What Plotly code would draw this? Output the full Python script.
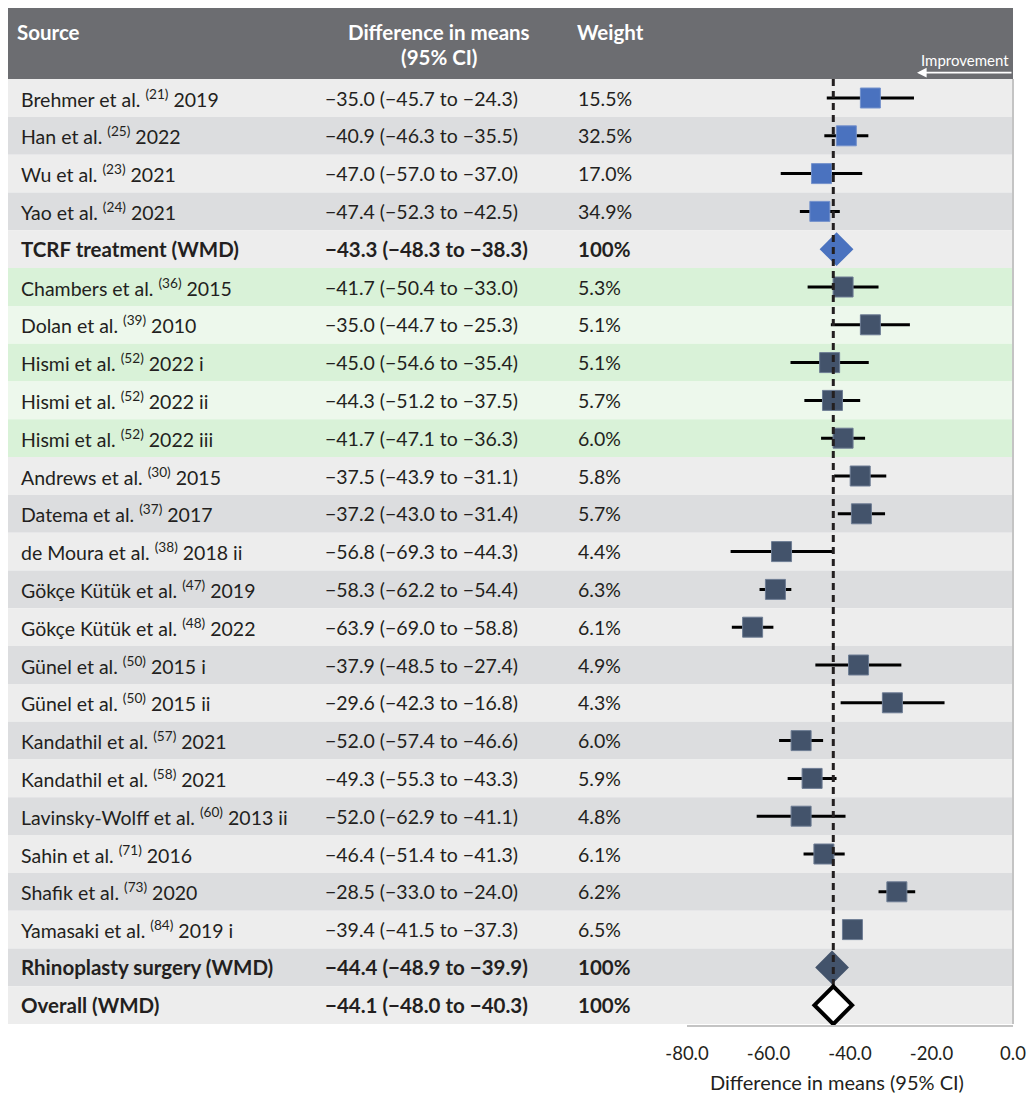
import plotly.graph_objects as go

# ---- study data -------------------------------------------------------------
authors = [
    "Brehmer et al.", "Han et al.", "Wu et al.", "Yao et al.", "TCRF treatment (WMD)",
    "Chambers et al.", "Dolan et al.", "Hismi et al.", "Hismi et al.", "Hismi et al.",
    "Andrews et al.", "Datema et al.", "de Moura et al.", "Gökçe Kütük et al.",
    "Gökçe Kütük et al.", "Günel et al.", "Günel et al.", "Kandathil et al.",
    "Kandathil et al.", "Lavinsky-Wolff et al.", "Sahin et al.", "Shafik et al.",
    "Yamasaki et al.", "Rhinoplasty surgery (WMD)", "Overall (WMD)",
]
refs = ["21", "25", "23", "24", "", "36", "39", "52", "52", "52", "30", "37", "38", "47",
        "48", "50", "50", "57", "58", "60", "71", "73", "84", "", ""]
years = ["2019", "2022", "2021", "2021", "", "2015", "2010", "2022 i", "2022 ii", "2022 iii",
         "2015", "2017", "2018 ii", "2019", "2022", "2015 i", "2015 ii", "2021", "2021",
         "2013 ii", "2016", "2020", "2019 i", "", ""]
means = [-35.0, -40.9, -47.0, -47.4, -43.3, -41.7, -35.0, -45.0, -44.3, -41.7, -37.5, -37.2,
         -56.8, -58.3, -63.9, -37.9, -29.6, -52.0, -49.3, -52.0, -46.4, -28.5, -39.4, -44.4, -44.1]
ci_low = [-45.7, -46.3, -57.0, -52.3, -48.3, -50.4, -44.7, -54.6, -51.2, -47.1, -43.9, -43.0,
          -69.3, -62.2, -69.0, -48.5, -42.3, -57.4, -55.3, -62.9, -51.4, -33.0, -41.5, -48.9, -48.0]
ci_high = [-24.3, -35.5, -37.0, -42.5, -38.3, -33.0, -25.3, -35.4, -37.5, -36.3, -31.1, -31.4,
           -44.3, -54.4, -58.8, -27.4, -16.8, -46.6, -43.3, -41.1, -41.3, -24.0, -37.3, -39.9, -40.3]
weights = ["15.5%", "32.5%", "17.0%", "34.9%", "100%", "5.3%", "5.1%", "5.1%", "5.7%", "6.0%",
           "5.8%", "5.7%", "4.4%", "6.3%", "6.1%", "4.9%", "4.3%", "6.0%", "5.9%", "4.8%",
           "6.1%", "6.2%", "6.5%", "100%", "100%"]
# row role: study rows of each group, the group summaries and the pooled result
kinds = ["tcrf"] * 4 + ["tcrf_sum"] + ["rhino"] * 18 + ["rhino_sum", "overall"]
highlighted = [False] * 5 + [True] * 5 + [False] * 15

tick_vals = [-80, -60, -40, -20, 0]
tick_text = ["-80.0", "-60.0", "-40.0", "-20.0", "0.0"]

# ---- styling ------------------------------------------------------------------
W, H = 1029, 1094
FONT = "Lato"
TXT = "#231f20"
BLUE = "#4a72bf"
NAVY = "#43536b"
HEADER = "#6c6d71"
ROW_BG = {(False, 0): "#ededed", (False, 1): "#dcdddf",
          (True, 0): "#edf8ec", (True, 1): "#d9f2d8"}
SIZE_REG, SIZE_BOLD = 19.5, 20.5


def px(x):
    """horizontal pixel -> paper fraction"""
    return x / W


def fmt(v):
    return f"{v:.1f}".replace("-", "\u2212")


n = len(means)
rows = list(range(n))

fig = go.Figure()

# confidence intervals of the individual studies
ci_x, ci_y = [], []
for i in rows:
    if kinds[i] in ("tcrf", "rhino"):
        ci_x += [ci_low[i], ci_high[i], None]
        ci_y += [i, i, None]
fig.add_trace(go.Scatter(x=ci_x, y=ci_y, mode="lines",
                         line=dict(color="black", width=3), hoverinfo="skip"))

# study point estimates
for kind, col, edge in (("tcrf", BLUE, "#7592cc"), ("rhino", NAVY, "#6e7d94")):
    idx = [i for i in rows if kinds[i] == kind]
    fig.add_trace(go.Scatter(
        x=[means[i] for i in idx], y=idx, mode="markers",
        marker=dict(symbol="square", size=20, color=col, line=dict(color=edge, width=1)),
    ))

# subgroup summaries
for kind, col in (("tcrf_sum", BLUE), ("rhino_sum", NAVY)):
    idx = [i for i in rows if kinds[i] == kind]
    fig.add_trace(go.Scatter(
        x=[means[i] for i in idx], y=idx, mode="markers",
        marker=dict(symbol="diamond", size=26, color=col, line=dict(width=0)),
    ))

# reference line through the pooled estimate
i_all = kinds.index("overall")
fig.add_trace(go.Scatter(
    x=[means[i_all], means[i_all]], y=[-0.5, i_all], mode="lines",
    line=dict(color=TXT, width=3, dash="7px,5px"), hoverinfo="skip",
))

# pooled estimate
fig.add_trace(go.Scatter(
    x=[means[i_all]], y=[i_all], mode="markers", cliponaxis=False,
    marker=dict(symbol="diamond", size=29, color="white", line=dict(color="black", width=4)),
))

# ---- table background -----------------------------------------------------------
shapes = []
for i in rows:
    shapes.append(dict(type="rect", xref="paper", yref="y", layer="below",
                       x0=px(8), x1=px(1013), y0=i - 0.5, y1=i + 0.5,
                       fillcolor=ROW_BG[(highlighted[i], i % 2)], line=dict(width=0)))
shapes.append(dict(type="rect", xref="paper", yref="y", layer="below",
                   x0=px(8), x1=px(1013), y0=-2.38, y1=-0.5,
                   fillcolor=HEADER, line=dict(width=0)))
shapes.append(dict(type="line", xref="paper", yref="y", layer="above",
                   x0=px(1013), x1=px(1013), y0=-0.5, y1=n - 0.5,
                   line=dict(color="#c4c4c4", width=2)))

# ---- table text -------------------------------------------------------------------
ann = []
for i in rows:
    bold = kinds[i] not in ("tcrf", "rhino")
    if refs[i]:
        label = f"{authors[i]} <sup>({refs[i]})</sup> {years[i]}"
    else:
        label = authors[i]
    ci_txt = f"{fmt(means[i])} ({fmt(ci_low[i])} to {fmt(ci_high[i])})"
    cells = [(19, label), (323, ci_txt), (576, weights[i])]
    for xpix, t in cells:
        if bold:
            t = f"<b>{t}</b>"
        ann.append(dict(x=px(xpix), y=i, xref="paper", yref="y", text=t,
                        showarrow=False, xanchor="left", yanchor="middle",
                        font=dict(family=FONT, size=SIZE_BOLD if bold else SIZE_REG,
                                  color=TXT)))

hdr_font = dict(family=FONT, size=SIZE_BOLD, color="white")
ann += [
    dict(x=px(15), y=-1.75, xref="paper", yref="y", text="<b>Source</b>",
         showarrow=False, xanchor="left", yanchor="middle", font=hdr_font),
    dict(x=px(439), y=-1.75, xref="paper", yref="y", text="<b>Difference in means</b>",
         showarrow=False, xanchor="center", yanchor="middle", font=hdr_font),
    dict(x=px(439), y=-1.09, xref="paper", yref="y", text="<b>(95% CI)</b>",
         showarrow=False, xanchor="center", yanchor="middle", font=hdr_font),
    dict(x=px(575), y=-1.75, xref="paper", yref="y", text="<b>Weight</b>",
         showarrow=False, xanchor="left", yanchor="middle", font=hdr_font),
    dict(x=px(1011), y=-1.0, xref="paper", yref="y", text="Improvement",
         showarrow=False, xanchor="right", yanchor="middle",
         font=dict(family=FONT, size=15, color="white")),
    # direction-of-benefit arrow
    dict(x=px(917), y=-0.67, xref="paper", yref="y", text="",
         ax=96, ay=0, axref="pixel", ayref="pixel",
         showarrow=True, arrowhead=2, arrowsize=1.2, arrowwidth=1.6, arrowcolor="white"),
    dict(x=px(837), y=(1025 - 1082) / 1025, xref="paper", yref="paper",
         text="Difference in means (95% CI)", showarrow=False,
         xanchor="center", yanchor="middle", font=dict(family=FONT, size=20, color=TXT)),
]

fig.update_layout(
    template="none",
    width=W, height=H,
    margin=dict(l=0, r=0, t=0, b=H - 1025, pad=0, autoexpand=False),
    paper_bgcolor="white", plot_bgcolor="rgba(0,0,0,0)",
    showlegend=False,
    shapes=shapes, annotations=ann,
    xaxis=dict(domain=[px(687), px(1013)], range=[-80, 0], automargin=False,
               tickvals=tick_vals, ticktext=tick_text,
               tickfont=dict(family=FONT, size=18.5, color=TXT),
               ticks="outside", ticklen=11, tickcolor="rgba(0,0,0,0)",
               showline=True, linecolor="#c4c4c4", linewidth=2,
               showgrid=False, zeroline=False, fixedrange=True),
    yaxis=dict(domain=[0, 1], range=[(1025 - 98) / 37.8, -98 / 37.8], automargin=False,
               visible=False, showgrid=False, zeroline=False),
)

fig.write_html("out.html")
